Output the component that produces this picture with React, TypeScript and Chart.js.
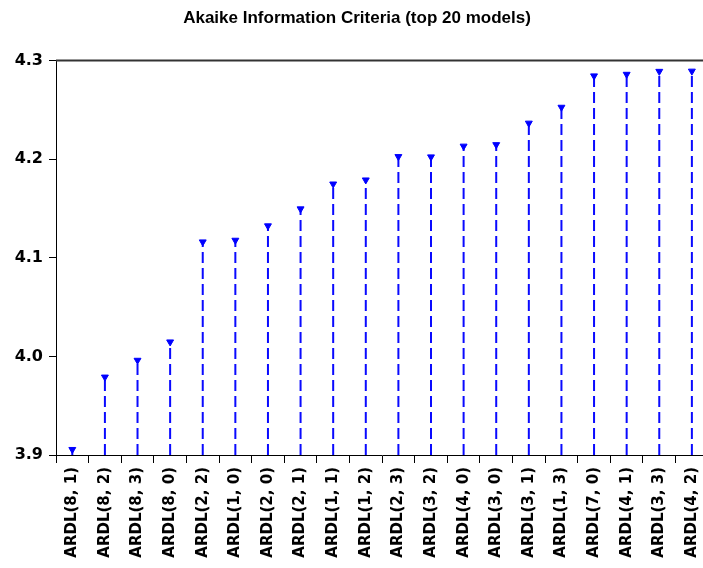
import React, { useEffect, useRef } from "react";
import { Chart, registerables } from "chart.js";

Chart.register(...registerables);

const models = [
  "ARDL(8, 1)", "ARDL(8, 2)", "ARDL(8, 3)", "ARDL(8, 0)", "ARDL(2, 2)",
  "ARDL(1, 0)", "ARDL(2, 0)", "ARDL(2, 1)", "ARDL(1, 1)", "ARDL(1, 2)",
  "ARDL(2, 3)", "ARDL(3, 2)", "ARDL(4, 0)", "ARDL(3, 0)", "ARDL(3, 1)",
  "ARDL(1, 3)", "ARDL(7, 0)", "ARDL(4, 1)", "ARDL(3, 3)", "ARDL(4, 2)",
];
const aicValues = [
  3.9056, 3.979, 3.996, 4.0146, 4.116,
  4.1177, 4.1323, 4.1495, 4.1747, 4.1788,
  4.2025, 4.2022, 4.2131, 4.2146, 4.2364,
  4.2525, 4.2843, 4.2859, 4.2889, 4.2891,
];
const yTicks = [3.9, 4.0, 4.1, 4.2, 4.3];
const titleText = "Akaike Information Criteria (top 20 models)";

const stemPlugin = {
  id: "stems",
  beforeDatasetsDraw(chart: any) {
    const ctx = chart.ctx;
    const area = chart.chartArea;
    const meta = chart.getDatasetMeta(0);
    ctx.save();
    ctx.strokeStyle = "rgb(10,10,255)";
    ctx.lineWidth = 2;
    ctx.setLineDash([11, 5]);
    meta.data.forEach((pt: any) => {
      ctx.beginPath();
      ctx.moveTo(pt.x, area.bottom);
      ctx.lineTo(pt.x, pt.y);
      ctx.stroke();
    });
    ctx.restore();
  },
  afterDraw(chart: any) {
    const ctx = chart.ctx;
    const area = chart.chartArea;
    ctx.save();
    ctx.strokeStyle = "#333";
    ctx.lineWidth = 2;
    ctx.beginPath();
    ctx.moveTo(area.left, area.top);
    ctx.lineTo(area.right, area.top);
    ctx.stroke();
    ctx.restore();
  },
};

export default function App() {
  const ref = useRef<HTMLCanvasElement>(null);
  useEffect(() => {
    if (!ref.current) return;
    const chart = new Chart(ref.current, {
      type: "line",
      data: {
        labels: models,
        datasets: [
          {
            data: aicValues,
            showLine: false,
            pointStyle: "triangle",
            rotation: 180,
            pointRadius: 4,
            pointBackgroundColor: "rgb(0,0,255)",
            pointBorderColor: "rgb(0,0,255)",
            pointBorderWidth: 1,
          },
        ],
      },
      options: {
        responsive: false,
        animation: false,
        layout: { padding: 0 },
        plugins: {
          legend: { display: false },
          tooltip: { enabled: false },
          title: {
            display: true,
            text: titleText,
            color: "#000",
            font: { family: "'Liberation Sans Narrow', 'Liberation Sans', Arial", size: 17, weight: "bold", lineHeight: 1.2 },
            padding: { top: 8, bottom: 32 },
          },
        },
        scales: {
          x: {
            type: "category",
            offset: true,
            grid: {
              offset: true,
              drawOnChartArea: false,
              drawTicks: true,
              tickLength: 8,
              color: "#000",
            },
            border: { display: true, color: "#000", width: 1 },
            ticks: {
              autoSkip: false,
              maxRotation: 90,
              minRotation: 90,
              padding: 4,
              color: "#000",
              font: { family: "'DejaVu Sans'", size: 15, weight: "bold" },
            },
            afterFit(scale: any) {
              scale.height = 113;
            },
          },
          y: {
            min: 3.9,
            max: 4.3,
            grid: {
              drawOnChartArea: false,
              drawTicks: true,
              tickLength: 7,
              color: "#000",
            },
            border: { display: true, color: "#000", width: 1 },
            afterBuildTicks(scale: any) {
              scale.ticks = yTicks.map((v) => ({ value: v }));
            },
            ticks: {
              padding: 6,
              color: "#000",
              font: { family: "'DejaVu Sans'", size: 16, weight: "bold" },
              callback: (v: any) => Number(v).toFixed(1),
            },
            afterFit(scale: any) {
              scale.width = 56;
            },
          },
        },
      },
      plugins: [stemPlugin],
    });
    return () => chart.destroy();
  }, []);
  return (
    <div style={{ position: "absolute", left: 0, top: 0, width: 703, height: 568, overflow: "hidden", background: "#fff" }}>
      <canvas ref={ref} width={714} height={568} style={{ display: "block" }} />
    </div>
  );
}
